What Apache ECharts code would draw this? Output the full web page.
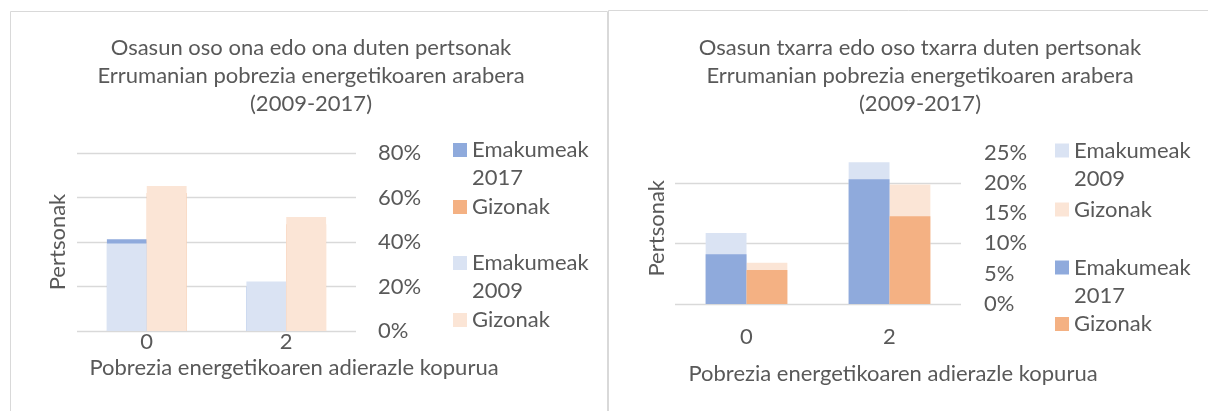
<!DOCTYPE html>
<html><head><meta charset="utf-8">
<script src="https://cdn.jsdelivr.net/npm/echarts@6/dist/echarts.min.js"></script>
<style>
html,body{margin:0;padding:0;background:#fff;width:1208px;height:411px;overflow:hidden}
#c1{position:absolute;left:0;top:0;width:608px;height:411px}
#c2{position:absolute;left:608px;top:0;width:600px;height:411px}
</style></head><body>
<div id="c1"></div><div id="c2"></div>
<script>
// ---- data ----
const categories = ['0', '2'];
const xName = 'Pobrezia energetikoaren adierazle kopurua';
const yName = 'Pertsonak';

const leftTitle = ['Osasun oso ona edo ona duten pertsonak', 'Errumanian pobrezia energetikoaren arabera', '(2009-2017)'];
const leftWomen2017 = [41.2, 20.0];
const leftMen2017 = [62.0, 48.0];
const leftWomen2009 = [39.3, 22.3];
const leftMen2009 = [65.2, 51.2];
const leftTicks = [0, 20, 40, 60, 80];

const rightTitle = ['Osasun txarra edo oso txarra duten pertsonak', 'Errumanian pobrezia energetikoaren arabera', '(2009-2017)'];
const rightWomen2009 = [11.7, 23.4];
const rightMen2009 = [6.8, 19.7];
const rightWomen2017 = [8.2, 20.6];
const rightMen2017 = [5.6, 14.5];
const rightTicks = [0, 5, 10, 15, 20, 25];
const rightGridTicks = [0, 10, 20];

const legendLabels = {
  'Emakumeak 2017': ['Emakumeak', '2017'], 'Gizonak 2017': ['Gizonak'],
  'Emakumeak 2009': ['Emakumeak', '2009'], 'Gizonak 2009': ['Gizonak']
};
const colors = {
  'Emakumeak 2017': '#8FAADC', 'Gizonak 2017': '#F4B183',
  'Emakumeak 2009': '#DAE3F3', 'Gizonak 2009': '#FBE5D6'
};

// ---- style ----
const FONT = 'Lato';
const TXT = '#595959';
const GRIDC = '#d9d9d9';
const FS = 22;
const LH = 28;

function textStyle(extra) {
  return Object.assign({ fontFamily: FONT, fontSize: FS, color: TXT, fontWeight: 'normal' }, extra || {});
}

function legendItem(name, left, iconCenter) {
  const lines = legendLabels[name];
  const multi = lines.length > 1;
  const top = multi ? iconCenter - 1.5 * LH : iconCenter - LH / 2;
  return {
    data: [{ name: name, icon: 'rect' }],
    left: left, top: top, orient: 'vertical', padding: 0,
    itemWidth: 14, itemHeight: 14, selectedMode: false,
    // a leading empty line puts the first text line level with the icon
    formatter: n => (multi ? '\n' : '') + legendLabels[n].join('\n'),
    textStyle: textStyle({ lineHeight: LH })
  };
}

function barSeries(name, data, xIdx, z) {
  return {
    name: name, type: 'bar', data: data, xAxisIndex: xIdx, yAxisIndex: 0, z: z,
    barGap: '0%', barCategoryGap: '42.857%',
    itemStyle: { color: colors[name] }
  };
}

function makeOption(cfg) {
  const t = cfg.ticks;
  const gt = cfg.gridTicks;
  return {
    animation: false,
    backgroundColor: '#fff',
    title: [
      { text: cfg.title.join('\n'), left: cfg.titleX, top: 34, textAlign: 'center', padding: 0,
        textStyle: textStyle({ lineHeight: 28 }) },
      { text: xName, left: cfg.xNameX, top: cfg.xNameY - 14, textAlign: 'center', padding: 0,
        textStyle: textStyle({ lineHeight: 28 }) }
    ],
    graphic: [{ type: 'rect', silent: true, z: 0,
      shape: cfg.box, style: { fill: 'none', stroke: GRIDC, lineWidth: 1 } }],
    grid: Object.assign({ outerBoundsMode: 'none', containLabel: false }, cfg.grid),
    xAxis: [
      { type: 'category', data: categories, gridIndex: 0,
        axisLine: { show: false }, axisTick: { show: false }, splitLine: { show: false },
        axisLabel: textStyle({ margin: cfg.xLabelMargin, lineHeight: 22 }) },
      { type: 'category', data: categories, gridIndex: 0, show: false }
    ],
    yAxis: [
      { type: 'value', position: 'right', min: t[0], max: t[t.length - 1], interval: t[1] - t[0],
        axisLine: { show: false }, axisTick: { show: false },
        axisLabel: textStyle({ formatter: '{value}%', margin: cfg.yLabelMargin }),
        splitLine: { show: cfg.labelAxisGrid, lineStyle: { color: GRIDC, width: 1.3 } } },
      { type: 'value', position: 'left', min: gt[0], max: t[t.length - 1], interval: gt[1] - gt[0],
        axisLine: { show: false }, axisTick: { show: false }, axisLabel: { show: false },
        splitLine: { show: !cfg.labelAxisGrid, showMaxLine: false,
          lineStyle: { color: [GRIDC, GRIDC, GRIDC, 'rgba(0,0,0,0)'], width: 1.3 } },
        name: yName, nameLocation: 'middle', nameRotate: 90, nameGap: cfg.yNameGap,
        nameTextStyle: textStyle() }
    ],
    legend: cfg.legend,
    series: cfg.series
  };
}

const leftOpt = makeOption({
  title: leftTitle, titleX: 311, xNameX: 294, xNameY: 368,
  box: { x: 10.5, y: 11.5, width: 597, height: 500 },
  grid: { left: 77, top: 153, width: 279, height: 178 },
  ticks: leftTicks, gridTicks: leftTicks, labelAxisGrid: true,
  xLabelMargin: 0, yLabelMargin: 22, yNameGap: 8,
  legend: [
    legendItem('Emakumeak 2017', 453, 150),
    legendItem('Gizonak 2017', 453, 207),
    legendItem('Emakumeak 2009', 453, 263),
    legendItem('Gizonak 2009', 453, 320)
  ],
  series: [
    barSeries('Emakumeak 2017', leftWomen2017, 0, 2),
    barSeries('Gizonak 2017', leftMen2017, 0, 2),
    barSeries('Emakumeak 2009', leftWomen2009, 1, 3),
    barSeries('Gizonak 2009', leftMen2009, 1, 3)
  ]
});

const rightOpt = makeOption({
  title: rightTitle, titleX: 312, xNameX: 285, xNameY: 374,
  box: { x: 0.5, y: 10.5, width: 700, height: 500 },
  grid: { left: 67, top: 152.5, width: 286, height: 151.5 },
  ticks: rightTicks, gridTicks: rightGridTicks, labelAxisGrid: false,
  xLabelMargin: 22, yLabelMargin: 23, yNameGap: 7,
  legend: [
    legendItem('Emakumeak 2009', 447, 150.5),
    legendItem('Gizonak 2009', 447, 209.5),
    legendItem('Emakumeak 2017', 447, 267.5),
    legendItem('Gizonak 2017', 447, 324)
  ],
  series: [
    barSeries('Emakumeak 2009', rightWomen2009, 1, 2),
    barSeries('Gizonak 2009', rightMen2009, 1, 2),
    barSeries('Emakumeak 2017', rightWomen2017, 0, 3),
    barSeries('Gizonak 2017', rightMen2017, 0, 3)
  ]
});

echarts.init(document.getElementById('c1'), null, { renderer: 'canvas' }).setOption(leftOpt);
echarts.init(document.getElementById('c2'), null, { renderer: 'canvas' }).setOption(rightOpt);
</script>
</body></html>
